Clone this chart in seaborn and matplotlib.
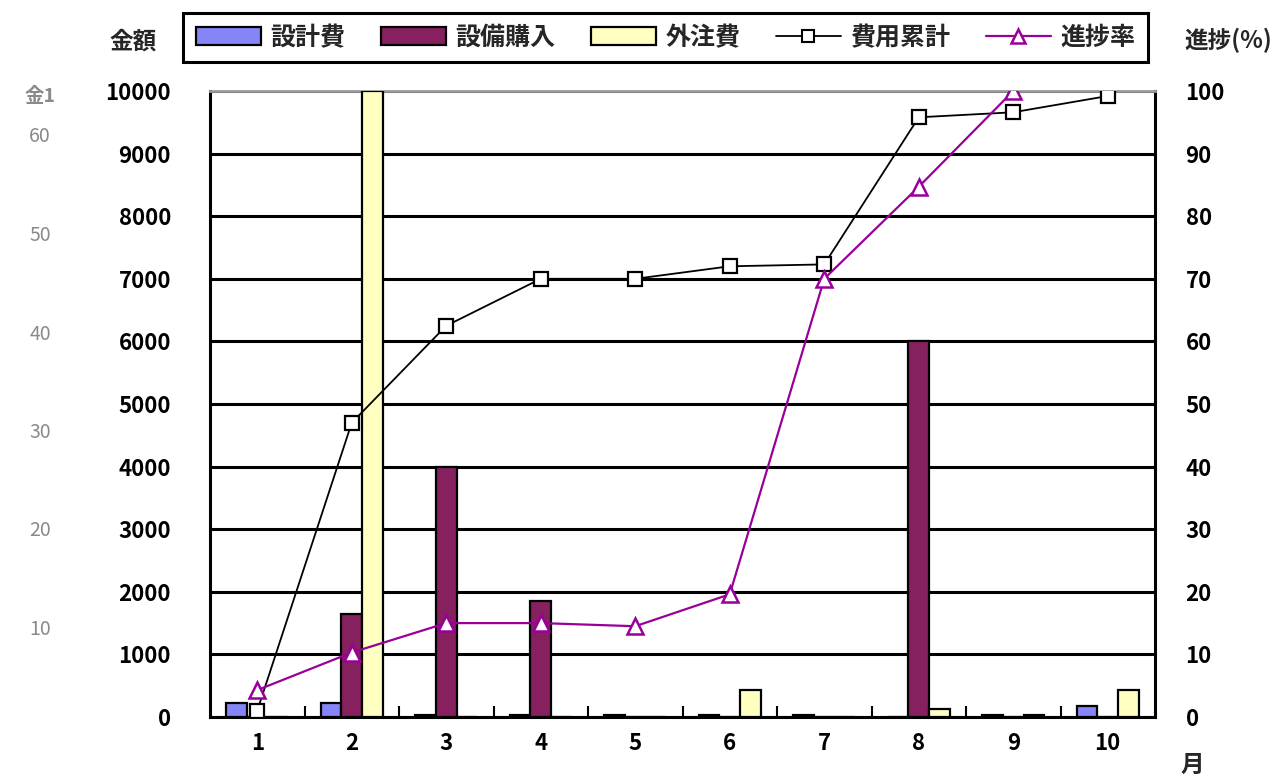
import numpy as np
import pandas as pd
import matplotlib
matplotlib.use("Agg")
import matplotlib.pyplot as plt
from matplotlib.patches import Patch
from matplotlib.lines import Line2D
from matplotlib.ticker import FixedLocator
import seaborn as sns

# ---- data -------------------------------------------------------------
months = ["1", "2", "3", "4", "5", "6", "7", "8", "9", "10"]
design_cost = [230, 230, 30, 30, 30, 30, 30, 0, 30, 180]          # 設計費
equipment_cost = [0, 1650, 4000, 1850, 0, 0, 0, 6000, 0, 0]        # 設備購入
outsourcing_cost = [0, 10000, 0, 0, 0, 430, 0, 130, 30, 430]      # 外注費
cumulative_pct = [1, 47, 62.5, 70, 70, 72, 72.3, 95.8, 96.6, 99.2]  # 費用累計
progress_pct = [4.3, 10.3, 15, 15, 14.5, 19.6, 70, 84.7, 100, np.nan]  # 進捗率

bar_series = ["設計費", "設備購入", "外注費"]
line_series = ["費用累計", "進捗率"]
amount_ticks = [0, 1000, 2000, 3000, 4000, 5000, 6000, 7000, 8000, 9000, 10000]
pct_ticks = [0, 10, 20, 30, 40, 50, 60, 70, 80, 90, 100]
side_ticks = ["60", "50", "40", "30", "20", "10"]

bar_colors = ["#8585F7", "#86205E", "#FFFFC2"]
cum_color = "black"
prog_color = "#990099"

# ---- style ------------------------------------------------------------
sns.set_theme(style="white")
plt.rcParams["font.family"] = ["Noto Sans CJK JP", "DejaVu Sans"]

fig = plt.figure(figsize=(12.78, 7.82), dpi=100)
ax = fig.add_axes([210 / 1278, 1 - 717 / 782, 945 / 1278, 626 / 782])

df = pd.DataFrame({
    "月": months * 3,
    "金額": design_cost + equipment_cost + outsourcing_cost,
    "費目": [n for n in bar_series for _ in months],
})

sns.barplot(data=df, x="月", y="金額", hue="費目", hue_order=bar_series,
            palette=bar_colors, saturation=1, width=0.66, gap=0,
            edgecolor="black", linewidth=1.6, ax=ax, legend=False, zorder=3)

ax.set_xlim(-0.5, 9.5)
ax.set_ylim(0, 10000)
ax.set_yticks(amount_ticks)
ax.set_yticklabels([str(t) for t in amount_ticks])
ax.yaxis.grid(True, color="black", linewidth=2.2)
ax.set_axisbelow(True)
ax.set_xlabel("")
ax.set_ylabel("")

# inward ticks at the month boundaries
ax.xaxis.set_minor_locator(FixedLocator(np.arange(0.5, 9, 1)))
ax.tick_params(axis="x", which="minor", direction="in", length=8, width=1.5,
               color="black", bottom=True)
ax.tick_params(axis="x", which="major", length=0, pad=11, labelsize=16,
               labelcolor="black")
ax.tick_params(axis="y", length=0, pad=28, labelsize=16, labelcolor="black")

for side in ["left", "right", "bottom"]:
    ax.spines[side].set_color("black")
    ax.spines[side].set_linewidth(2.2)
ax.spines["top"].set_color("#999999")
ax.spines["top"].set_linewidth(2)

# ---- percentage lines on the secondary axis ----------------------------
ax2 = ax.twinx()
x_pos = np.arange(len(months))
sns.lineplot(x=x_pos, y=cumulative_pct, ax=ax2, color=cum_color, linewidth=1.3,
             marker="s", markersize=10, markerfacecolor="white",
             markeredgecolor=cum_color, markeredgewidth=1.6, zorder=5)
sns.lineplot(x=x_pos, y=progress_pct, ax=ax2, color=prog_color, linewidth=1.6,
             marker="^", markersize=11, markerfacecolor="white",
             markeredgecolor=prog_color, markeredgewidth=1.8, zorder=6)
ax2.set_ylim(0, 100)
ax2.set_yticks(pct_ticks)
ax2.set_yticklabels([str(t) for t in pct_ticks])
ax2.tick_params(axis="y", length=0, pad=22, labelsize=16, labelcolor="black")
ax2.set_ylabel("")
ax2.grid(False)
for s in ax2.spines.values():
    s.set_visible(False)
ax.set_xlim(-0.5, 9.5)

for lbl in ax.get_xticklabels() + ax.get_yticklabels() + ax2.get_yticklabels():
    lbl.set_fontweight("bold")

# ---- axis titles --------------------------------------------------------
fig.text(133 / 1278, 1 - 42 / 782, "金額", ha="center", va="center",
         fontsize=17, fontweight="bold")
fig.text(1228 / 1278, 1 - 40 / 782, "進捗(%)", ha="center", va="center",
         fontsize=17, fontweight="bold")
fig.text(1192 / 1278, 1 - 765 / 782, "月", ha="center", va="center",
         fontsize=17, fontweight="bold")

# faded scale on the far left
fig.text(40 / 1278, 1 - 97 / 782, "金1", ha="center", va="center",
         fontsize=14, color="#8a8a8a", fontweight="bold")
for i, t in enumerate(side_ticks):
    fig.text(40 / 1278, 1 - (137 + i * 98.5) / 782, t, ha="center", va="center",
             fontsize=14, color="#8a8a8a")

# ---- legend ---------------------------------------------------------------
handles = [Patch(facecolor=c, edgecolor="black", linewidth=1.6) for c in bar_colors]
handles.append(Line2D([], [], color=cum_color, lw=1.3, marker="s", markersize=9,
                      markerfacecolor="white", markeredgecolor=cum_color,
                      markeredgewidth=1.5))
handles.append(Line2D([], [], color=prog_color, lw=1.6, marker="^", markersize=10,
                      markerfacecolor="white", markeredgecolor=prog_color,
                      markeredgewidth=1.8))
leg = fig.legend(handles, bar_series + line_series, ncol=5, loc="upper left",
                 bbox_to_anchor=(183 / 1278, 1 - 13 / 782), frameon=True,
                 fancybox=False, edgecolor="black", framealpha=1,
                 prop={"size": 18, "weight": "bold"}, handlelength=2.6,
                 handleheight=0.7, handletextpad=0.4, columnspacing=1.4,
                 borderpad=0.5, borderaxespad=0)
leg.get_frame().set_linewidth(2.2)

fig.savefig("out.png", dpi=100)
